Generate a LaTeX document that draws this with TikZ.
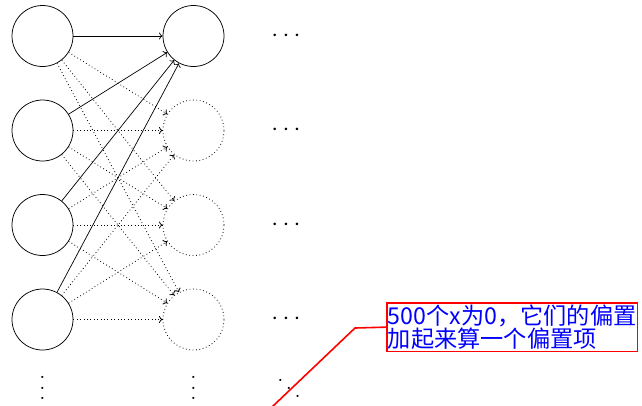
\documentclass[tikz,border=0pt]{standalone}
\usepackage{fontspec}
\usepackage{graphicx}
\usetikzlibrary{arrows.meta}
\newfontfamily\cjkfont{Noto Sans CJK SC}
\newcommand{\bigvdots}{\scalebox{2.7}{\fontsize{7}{8}\selectfont$\vdots$}}
\newcommand{\bigddots}{\scalebox{2.7}{\fontsize{7}{8}\selectfont$\ddots$}}
\newcommand{\bigcdots}{\scalebox{2.7}{\fontsize{9.4}{10}\selectfont$\cdots$}}
\begin{document}
\begin{tikzpicture}[x=1pt,y=-1pt,
  neuron/.style={circle,draw,minimum size=61pt,inner sep=0pt,line width=0.75pt},
  ghost/.style={neuron,line width=0.8pt,dash pattern=on 0.8pt off 2.6pt},
  tipstyle/.style={-{To[length=3.6pt,width=7pt]}},
  solidedge/.style={tipstyle,line width=0.7pt},
  dotedge/.style={tipstyle,line width=0.8pt,dash pattern=on 0.8pt off 2.6pt},
  dotsnode/.style={inner sep=0pt},
  callout/.style={draw=red,line width=1.6pt,text=blue,align=left,
    font=\cjkfont\fontsize{23.2}{23}\selectfont,inner xsep=1pt,inner ysep=2pt},
  leader/.style={draw=red,line width=1.6pt}]
\useasboundingbox (0,0) rectangle (642,405);
\foreach \i/\y in {1/36,2/130.5,3/225,4/319.5}{
  \node[neuron] (in\i) at (42.5,\y) {};
  \node[dotsnode] (dots\i) at (286,\y) {\bigcdots};
}
\node[neuron] (h1) at (193.5,36) {};
\node[ghost] (h2) at (193.5,130.5) {};
\node[ghost] (h3) at (193.5,225) {};
\node[ghost] (h4) at (193.5,319.5) {};
\foreach \i in {1,2,3,4}{
  \draw[solidedge] (in\i) -- (h1);
  \foreach \j in {2,3,4}{
    \draw[dotedge] (in\i) -- (h\j);
  }
}
\node[dotsnode] (vin) at (42.5,380) {\bigvdots};
\node[dotsnode] (vh) at (193.5,380) {\bigvdots};
\node[dotsnode] (dd) at (289,380) {\bigddots};
\node[callout,anchor=north west] (note) at (386,302) {500个x为0，它们的偏置\\加起来算一个偏置项};
\coordinate (bend) at (355,328);
\coordinate (tail) at (272,407);
\draw[leader] (note.west) -- (bend) -- (tail);
\end{tikzpicture}
\end{document}
